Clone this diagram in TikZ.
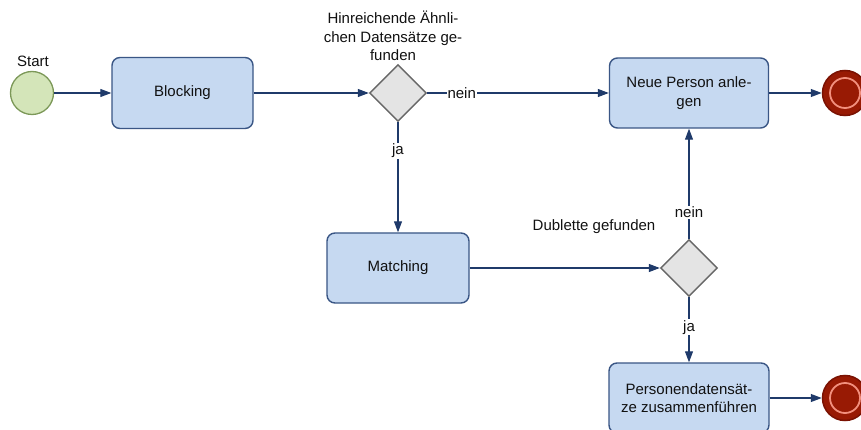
\documentclass[tikz,border=0pt]{standalone}
\usepackage{fontspec}
\setmainfont{Liberation Sans}
\usetikzlibrary{shapes.geometric,arrows.meta}
\definecolor{boxfill}{HTML}{C6D9F1}
\definecolor{boxdraw}{HTML}{3A5685}
\definecolor{flowcol}{HTML}{1F3A6A}
\definecolor{gatefill}{HTML}{E4E4E4}
\definecolor{gatedraw}{HTML}{666666}
\definecolor{startfill}{HTML}{D4E5B9}
\definecolor{startdraw}{HTML}{7C9858}
\definecolor{endfill}{HTML}{981A04}
\definecolor{enddraw}{HTML}{7A1203}
\definecolor{endring}{HTML}{F2907E}
\definecolor{txt}{HTML}{111111}
\tikzset{
  task/.style={draw=boxdraw, fill=boxfill, line width=1.4pt, rounded corners=8pt,
    minimum height=70pt, align=center, text=txt, inner sep=2pt},
  gate/.style={draw=gatedraw, fill=gatefill, line width=1.4pt, shape=diamond,
    aspect=1, minimum width=57pt, minimum height=57pt, inner sep=0pt},
  startev/.style={circle, draw=startdraw, fill=startfill, line width=1.3pt,
    minimum size=43pt, inner sep=0pt},
  endev/.style={circle, draw=enddraw, fill=endfill, line width=1.5pt,
    minimum size=45pt, inner sep=0pt},
  flow/.style={draw=flowcol, line width=1.1pt, -{Triangle[length=11pt,width=8pt]}},
  lbl/.style={fill=white, inner sep=1pt, text=txt},
  note/.style={text=txt, align=center, inner sep=0pt},
}
\begin{document}
\begin{tikzpicture}[x=1pt,y=-1pt,font=\fontsize{15}{18.5}\selectfont]
\clip (0,0) rectangle (861,430);
\fill[white] (0,0) rectangle (861,430);
% nodes
\node[startev] (start) at (32,93) {};
\node[note] (startlbl) at (33,61) {Start};
\node[task, minimum width=141pt, minimum height=71pt] (block) at (182.5,93) {Blocking};
\node[gate] (g1) at (398,93) {};
\node[note] (g1lbl) at (393,36) {Hinreichende Ähnli-\\chen Datensätze ge-\\funden};
\node[task, minimum width=159pt] (neue) at (689,93) {Neue Person anle-\\gen};
\node[endev] (end1) at (845,93) {};
\draw[endring, line width=1.8pt] (end1.center) circle (15pt);
\node[task, minimum width=142pt] (match) at (398,268) {Matching};
\node[gate] (g2) at (689,268) {};
\node[note] (g2lbl) at (594,227) {Dublette gefunden};
\node[task, minimum width=160pt] (pers) at (689,398) {Personendatensät-\\ze zusammenführen};
\node[endev] (end2) at (845,398) {};
\draw[endring, line width=1.8pt] (end2.center) circle (15pt);
% flows
\draw[flow] (start) -- (block);
\draw[flow] (block) -- (g1);
\draw[flow] (g1) -- node[lbl, pos=0.19] (nein1) {nein} (neue);
\draw[flow] (g1) -- node[lbl, pos=0.26] (ja1) {ja} (match);
\draw[flow] (match) -- (g2);
\draw[flow] (g2) -- node[lbl, pos=0.24] (nein2) {nein} (neue);
\draw[flow] (g2) -- node[lbl, pos=0.46] (ja2) {ja} (pers);
\draw[flow] (neue) -- (end1);
\draw[flow] (pers) -- (end2);
\end{tikzpicture}
\end{document}
